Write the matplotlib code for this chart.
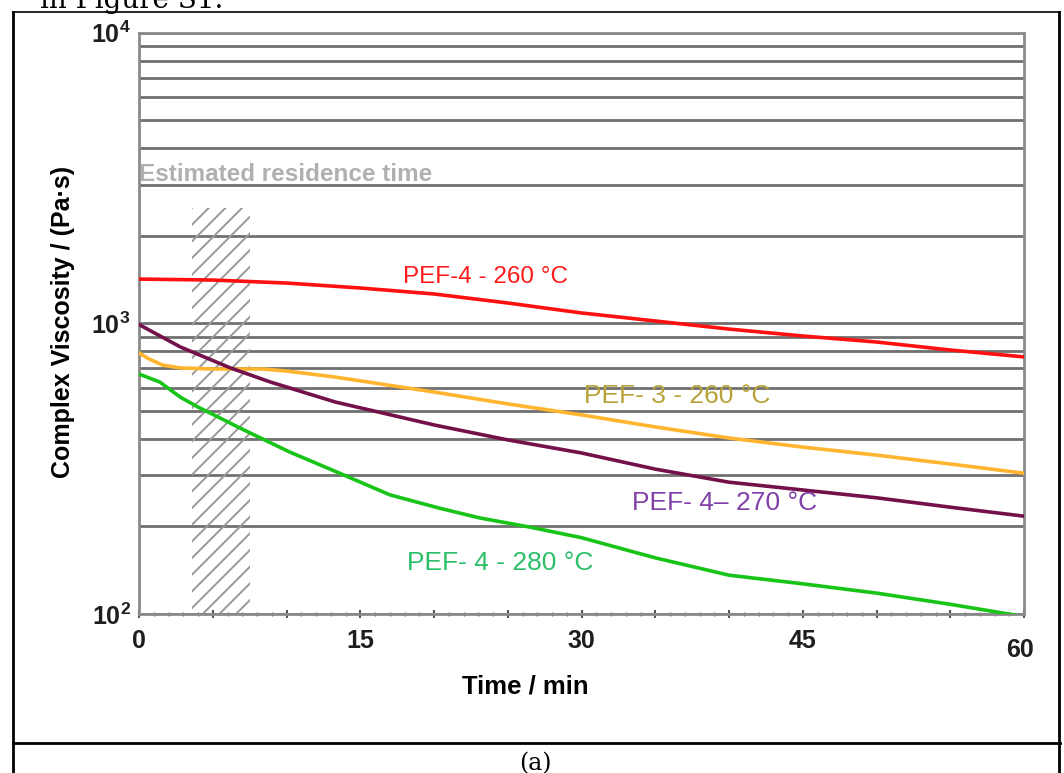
import matplotlib.pyplot as plt
from matplotlib.ticker import FixedLocator, NullFormatter
from matplotlib.patches import Rectangle
import matplotlib.transforms as mtransforms

plt.rcParams['font.family'] = ['Liberation Sans', 'DejaVu Sans']
plt.rcParams['mathtext.fontset'] = 'custom'
plt.rcParams['mathtext.rm'] = 'Liberation Sans'
plt.rcParams['mathtext.bf'] = 'Liberation Sans:bold'
plt.rcParams['hatch.color'] = '#999999'
plt.rcParams['hatch.linewidth'] = 1.4

# viscosity vs time (min), one pair of lists per sample
t_pef4_260 = [0, 5, 10, 15, 20, 25, 30, 35, 40, 45, 50, 55, 60]
v_pef4_260 = [1419, 1408, 1375, 1322, 1261, 1174, 1085, 1018, 955, 904, 862, 809, 766]

t_pef3_260 = [0, 0.7, 1.6, 2.8, 5, 8.4, 10, 13.3, 20, 25, 30, 35, 40, 45, 50, 55, 60]
v_pef3_260 = [790, 753, 718, 702, 696, 696, 685, 653, 580, 528, 484, 440, 403, 375, 352, 328, 305]

t_pef4_270 = [0, 2.8, 6.2, 8.9, 13.3, 20, 25, 30, 35, 40, 45, 50, 55, 60]
v_pef4_270 = [990, 829, 702, 628, 536, 447, 397, 358, 315, 284, 267, 251, 233, 217]

t_pef4_280 = [0, 1.4, 2.8, 4, 5.5, 6.85, 10.2, 13.6, 17, 20.4, 23.1, 26.5, 30, 35, 40, 45, 50, 55, 60]
v_pef4_280 = [669, 628, 557, 515, 472, 436, 361, 305, 257, 231, 214, 199, 183, 156, 136, 127, 118, 108, 98]

# residence time window
res_start, res_end, res_top = 3.6, 7.5, 2500

x_ticks = [0, 5, 10, 15, 20, 25, 30, 35, 40, 45, 50, 55, 60]
x_labels = ['0', '', '', '15', '', '', '30', '', '', '45', '', '', '60']

fig = plt.figure(figsize=(10.64, 7.73), dpi=100)

# surrounding table frame and caption
fig.add_artist(plt.Line2D([13/1064, 1060/1064], [1 - 12/773, 1 - 12/773], color='black', lw=1.2))
fig.add_artist(plt.Line2D([13/1064, 13/1064], [0, 1 - 12/773], color='black', lw=2))
fig.add_artist(plt.Line2D([1059/1064, 1059/1064], [0, 1 - 12/773], color='black', lw=2))
fig.add_artist(plt.Line2D([13/1064, 1060/1064], [1 - 743/773, 1 - 743/773], color='black', lw=2))
fig.text(40/1064, 1 - 8/773, 'in Figure S1.', family='serif', fontsize=20, va='baseline', ha='left')
fig.text(535/1064, 1 - 770/773, '(a)', family='serif', fontsize=17, va='baseline', ha='center')

ax = fig.add_axes([139/1064, 1 - 614/773, (1024 - 139)/1064, (614 - 32.5)/773])
ax.set_yscale('log')
ax.set_xlim(0, 60)
ax.set_ylim(100, 10000)

ax.add_patch(Rectangle((res_start, 100), res_end - res_start, res_top - 100,
                       facecolor='none', edgecolor='#999999', lw=0, hatch='//', zorder=1))

ax.plot(t_pef4_260, v_pef4_260, color='#ff1010', lw=2.6, zorder=3)
ax.plot(t_pef3_260, v_pef3_260, color='#ffb52e', lw=2.6, zorder=3)
ax.plot(t_pef4_270, v_pef4_270, color='#74104a', lw=2.6, zorder=3)
ax.plot(t_pef4_280, v_pef4_280, color='#18c418', lw=2.6, zorder=3)

ax.text(0, 3250, 'Estimated residence time', color='#b0b0b0', fontsize=17.5,
        fontweight='bold', ha='left', va='center')
ax.text(17.9, 1440, 'PEF-4 - 260 °C', color='#ff1a1a', fontsize=17.5, ha='left', va='center')
ax.text(30.2, 560, 'PEF- 3 - 260 °C', color='#b8a33a', fontsize=19, ha='left', va='center')
ax.text(33.4, 240, 'PEF- 4– 270 °C', color='#8040a8', fontsize=19, ha='left', va='center')
ax.text(18.2, 150, 'PEF- 4 - 280 °C', color='#2cbf6a', fontsize=19, ha='left', va='center')

ax.yaxis.grid(True, which='both', color='#707070', lw=2)
ax.set_axisbelow(True)

ax.set_yticks([100, 1000, 10000])
ax.set_yticklabels([r'$\mathbf{10^{2}}$', r'$\mathbf{10^{3}}$', r'$\mathbf{10^{4}}$'])
ax.yaxis.set_minor_formatter(NullFormatter())
ax.set_xticks(x_ticks)
ax.set_xticklabels(x_labels)
ax.xaxis.set_minor_locator(FixedLocator(range(0, 61)))

for lab in ax.get_xticklabels() + ax.get_yticklabels():
    lab.set_fontweight('bold')
    lab.set_fontsize(18)
    lab.set_color('#1e1e1e')

ax.tick_params(axis='x', which='major', direction='inout', length=6, width=1.5, color='#555555', pad=8)
ax.tick_params(axis='x', which='minor', direction='inout', length=3, width=1, color='#666666')
ax.tick_params(axis='y', which='both', length=0, pad=6)

# the last label sits a little lower
lab60 = ax.get_xticklabels()[-1]
lab60.set_transform(lab60.get_transform() + mtransforms.ScaledTranslation(-3/72, -6/72, fig.dpi_scale_trans))

for s in ax.spines.values():
    s.set_color('#8a8a8a')
    s.set_linewidth(2)

ax.set_xlabel('Time / min', fontsize=18.5, fontweight='bold')
ax.xaxis.set_label_coords((525 - 139) / (1024 - 139), -(686 - 614) / (614 - 32.5))
ax.xaxis.label.set_va('center')
ax.set_ylabel('Complex Viscosity / (Pa·s)', fontsize=18, fontweight='bold')
ax.yaxis.set_label_coords(-(139 - 63) / (1024 - 139), (614 - 322) / (614 - 32.5))
ax.yaxis.label.set_va('center')

fig.savefig('out.png', dpi=100)
